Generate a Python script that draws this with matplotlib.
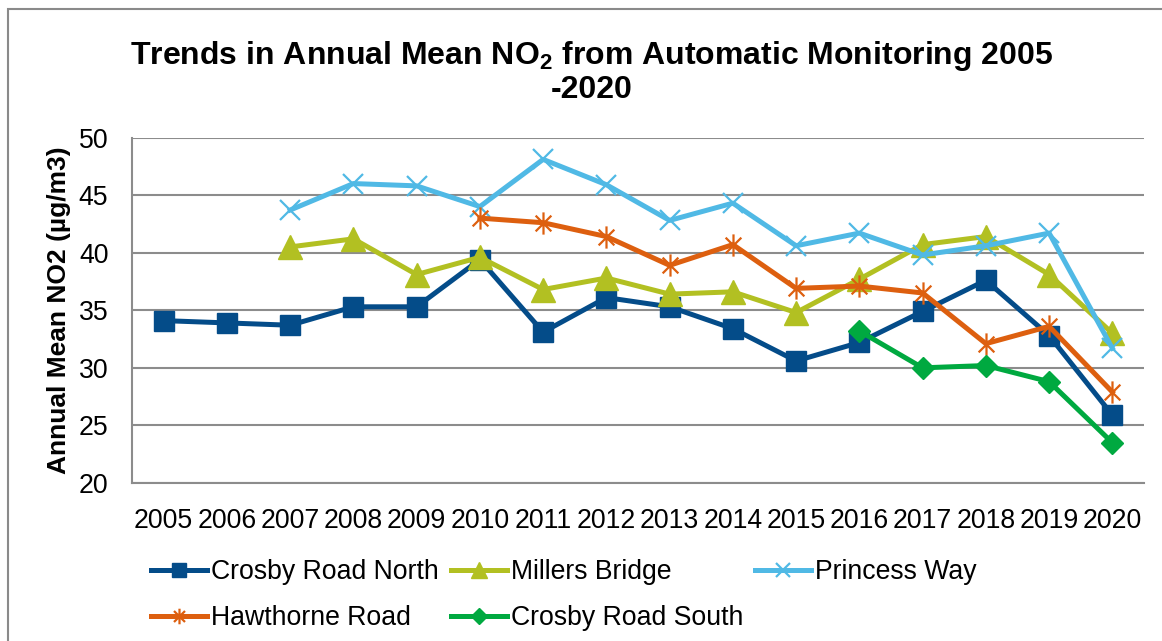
import matplotlib
matplotlib.use("Agg")
import matplotlib.pyplot as plt
from matplotlib.path import Path
from matplotlib.patches import Rectangle
import numpy as np

plt.rcParams['font.family'] = ['Liberation Sans', 'DejaVu Sans']
plt.rcParams['mathtext.fontset'] = 'custom'
plt.rcParams['mathtext.rm'] = 'Liberation Sans:bold'
plt.rcParams['mathtext.bf'] = 'Liberation Sans:bold'
plt.rcParams['mathtext.it'] = 'Liberation Sans:bold'

years = ['2005', '2006', '2007', '2008', '2009', '2010', '2011', '2012',
         '2013', '2014', '2015', '2016', '2017', '2018', '2019', '2020']
nan = np.nan
crosby_north = [34.1, 33.9, 33.7, 35.3, 35.3, 39.4, 33.1, 36.1,
                35.3, 33.4, 30.6, 32.2, 34.9, 37.6, 32.8, 25.9]
millers_bridge = [nan, nan, 40.5, 41.2, 38.1, 39.6, 36.8, 37.8,
                  36.4, 36.6, 34.8, 37.7, 40.7, 41.4, 38.1, 33.0]
princess_way = [nan, nan, 43.7, 46.0, 45.8, 44.0, 48.1, 45.9,
                42.8, 44.3, 40.6, 41.7, 39.8, 40.6, 41.7, 31.7]
hawthorne_road = [nan, nan, nan, nan, nan, 43.0, 42.6, 41.4,
                  38.9, 40.7, 36.9, 37.1, 36.5, 32.1, 33.6, 27.9]
crosby_south = [nan, nan, nan, nan, nan, nan, nan, nan,
                nan, nan, nan, 33.2, 30.0, 30.2, 28.8, 23.5]

W, H = 1162, 641
fig = plt.figure(figsize=(W / 100, H / 100), dpi=100)
ax = fig.add_axes([132 / W, 1 - 483 / H, (1144 - 132) / W, (483 - 137.5) / H])

# outer chart border
fig.patches.append(Rectangle((7.5 / W, -0.1), 1.2, 1 - 8.5 / H + 0.1,
                             transform=fig.transFigure, fill=False,
                             edgecolor='#8a8a8a', linewidth=1.5))

x = np.arange(len(years))

s = 0.7071
star = Path([(0, -1), (0, 1), (-s, -s), (s, s), (-s, s), (s, -s)],
            [Path.MOVETO, Path.LINETO, Path.MOVETO, Path.LINETO, Path.MOVETO, Path.LINETO])

lw = 3.6
l1, = ax.plot(x, crosby_north, color='#044C89', lw=lw, marker='s', ms=15,
              label='Crosby Road North', zorder=3)
l2, = ax.plot(x, millers_bridge, color='#B2C022', lw=lw, marker='^', ms=17,
              label='Millers Bridge', zorder=4)
l3, = ax.plot(x, princess_way, color='#50B9E5', lw=lw, marker='x', ms=15, mew=1.6,
              label='Princess Way', zorder=5)
l4, = ax.plot(x, hawthorne_road, color='#DD5F0F', lw=lw, marker=star, ms=16, mew=1.6,
              label='Hawthorne Road', zorder=6)
l5, = ax.plot(x, crosby_south, color='#00A940', lw=lw, marker='D', ms=11.5,
              label='Crosby Road South', zorder=7)

ax.set_xlim(-0.5, len(years) - 0.5)
ax.set_ylim(20, 50)
ax.set_yticks(np.arange(20, 51, 5))
ax.set_xticks(x)
ax.set_xticklabels(years)
ax.tick_params(axis='both', length=0, labelsize=19.2, colors='black')
ax.tick_params(axis='y', pad=17)
ax.tick_params(axis='x', pad=18)
ax.grid(axis='y', color='#8c8c8c', lw=1.5)
ax.set_axisbelow(True)
for sp in ['top', 'right']:
    ax.spines[sp].set_visible(False)
for sp in ['left', 'bottom']:
    ax.spines[sp].set_color('#8c8c8c')
    ax.spines[sp].set_linewidth(1.5)

ax.set_ylabel('Annual Mean NO2 (µg/m3)', fontsize=19, fontweight='bold')
ax.yaxis.set_label_coords((71 - 132) / (1144 - 132), 0.5)

fig.text(592 / W, 1 - 72 / H,
         'Trends in Annual Mean NO$_2$ from Automatic Monitoring 2005\n-2020',
         ha='center', va='center', fontsize=23, fontweight='bold', linespacing=1.1)

handles = [l1, l4, l2, l5, l3]
leg = fig.legend(handles, [h.get_label() for h in handles], ncol=3,
                 loc='upper left', bbox_to_anchor=(151 / W, 1 - 559 / H),
                 frameon=False, fontsize=19.2, handlelength=2.1, handletextpad=0.15,
                 columnspacing=0.45, markerscale=0.7, labelspacing=0.75,
                 borderaxespad=0, borderpad=0)

fig.savefig('out.png', dpi=100)
